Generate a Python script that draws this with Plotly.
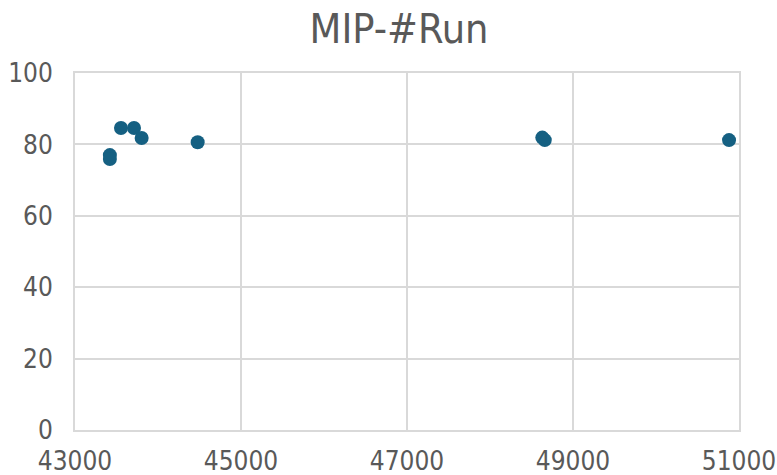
import plotly.graph_objects as go

# Run counts against MIP score
runs = [43420, 43420, 43554, 43711, 43803, 44478, 48630, 48660, 50880]
mip = [77.0, 75.9, 84.6, 84.6, 81.8, 80.6, 81.9, 81.2, 81.2]

x_ticks = [43000, 45000, 47000, 49000, 51000]
y_ticks = [0, 20, 40, 60, 80, 100]

FONT = "DejaVu Sans Condensed, Liberation Sans Narrow, sans-serif"
GRID = "#D9D9D9"
TEXT = "#595959"

fig = go.Figure(
    go.Scatter(
        x=runs,
        y=mip,
        mode="markers",
        marker=dict(size=14, color="#156082", line=dict(width=0)),
        hoverinfo="x+y",
    )
)

fig.update_layout(
    width=777,
    height=475,
    margin=dict(l=75, r=38, t=73, b=45, autoexpand=False),
    paper_bgcolor="white",
    plot_bgcolor="white",
    showlegend=False,
    font=dict(family=FONT, color=TEXT, size=27),
    title=dict(
        text="MIP-#Run",
        font=dict(family=FONT, size=41, color=TEXT),
        x=0.488,
        xref="paper",
        xanchor="center",
        y=0.94,
        yref="container",
        yanchor="middle",
    ),
)

axis_common = dict(
    showgrid=True,
    gridcolor=GRID,
    gridwidth=2,
    zeroline=False,
    showline=True,
    linecolor=GRID,
    linewidth=2,
    mirror=True,
    ticks="",
    automargin=False,
    ticklabeloverflow="allow",
    tickfont=dict(family=FONT, size=26, color=TEXT),
)

fig.update_xaxes(
    range=[43000, 51000],
    tickvals=x_ticks,
    ticktext=[str(v) for v in x_ticks],
    ticklabelstandoff=7,
    **axis_common,
)
fig.update_yaxes(
    range=[0, 100],
    tickvals=y_ticks,
    ticktext=[str(v) for v in y_ticks],
    ticklabelstandoff=15,
    **axis_common,
)

fig.write_html("out.html")
